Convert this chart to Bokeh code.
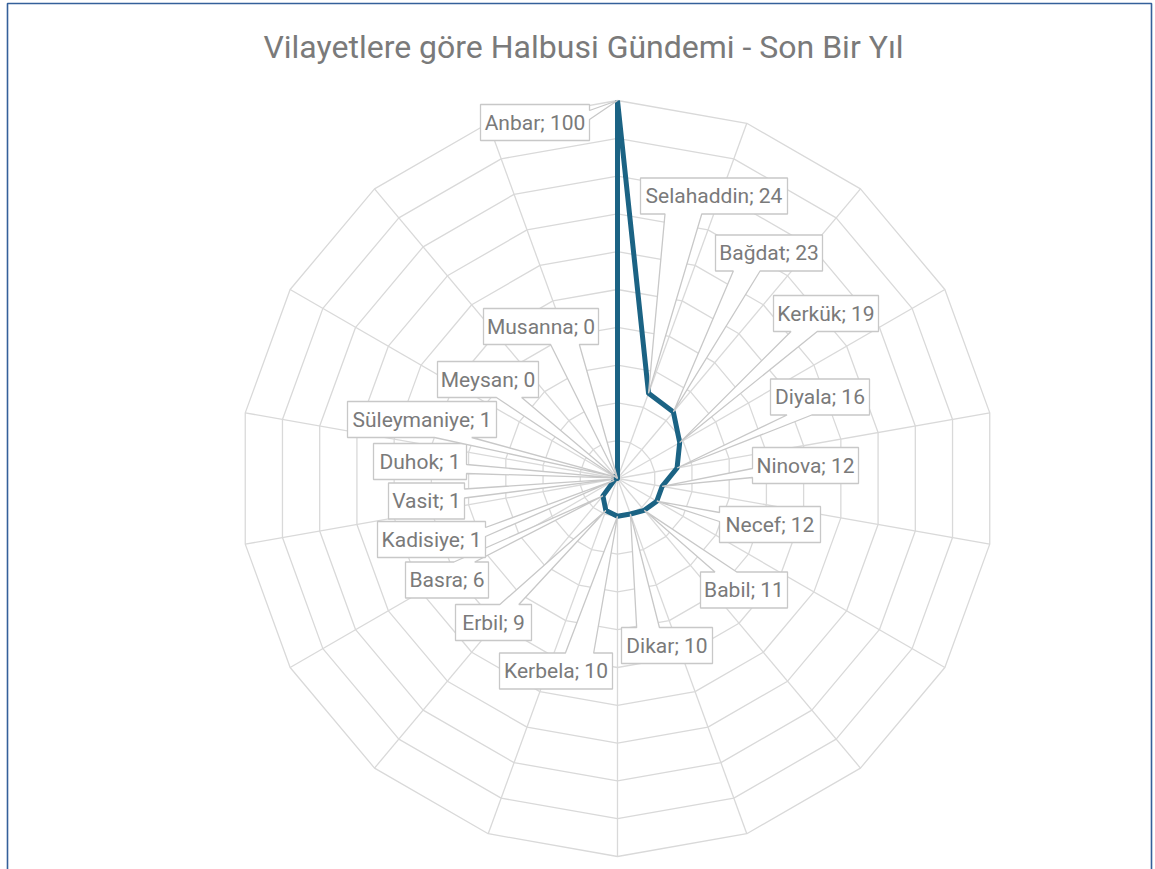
import numpy as np
from bokeh.plotting import figure
from bokeh.models import Range1d, Label
from bokeh.embed import file_html
from bokeh.resources import INLINE
from bokeh.core.properties import value

# ---------------- data ----------------
categories = ["Anbar", "Selahaddin", "Bağdat", "Kerkük", "Diyala", "Ninova",
              "Necef", "Babil", "Dikar", "Kerbela", "Erbil", "Basra",
              "Kadisiye", "Vasit", "Duhok", "Süleymaniye", "Meysan", "Musanna"]
values = [100, 24, 23, 19, 16, 12, 12, 11, 10, 10, 9, 6, 1, 1, 1, 1, 0, 0]
ring_levels = [10, 20, 30, 40, 50, 60, 70, 80, 90, 100]
title_text = "Vilayetlere göre Halbusi Gündemi - Son Bir Yıl"

# ---------------- layout (screen px, relative to chart centre, y down) ----------------
label_dx = [-82.5, 96.5, 151.5, 208.5, 202.5, 188, 152.5, 126.5, 49.5,
            -61.5, -124, -170.5, -186, -191, -197.5, -195.5, -129.5, -76.5]
label_dy = [-356, -282.5, -225.5, -165, -81.5, -13, 46, 111.5, 167,
            192.5, 144, 101.5, 61, 22.5, -17, -59, -99, -152]
label_w = [109, 147, 107, 105, 99, 106, 101, 87, 91,
           113, 76, 83, 108, 76, 93, 149, 101, 115]
label_h = 36

W, H = 1155, 869
CX, CY = 617, 478          # chart centre inside the figure (px)
R_PX = 378.0               # radius of the outer ring (px)
S = R_PX / max(ring_levels)  # px per value unit

FONT = "Roboto"
TEXT_COLOR = "#7a7a7a"
GRID_COLOR = "#d9d9d9"
CALLOUT_COLOR = "#c8c8c8"
LINE_COLOR = "#1b6384"

p = figure(width=W, height=H, output_backend="svg", toolbar_location=None,
           x_range=Range1d(-CX / S, (W - CX) / S),
           y_range=Range1d(-(H - CY) / S, CY / S),
           min_border=0, background_fill_color="white",
           border_fill_color="white")
p.axis.visible = False
p.xgrid.visible = False
p.ygrid.visible = False
p.outline_line_color = None

n = len(categories)
ang = np.deg2rad(np.arange(n) * 360.0 / n)   # clockwise from top
sx, sy = np.sin(ang), np.cos(ang)

# rings
ring_xs = [list(np.append(lv * sx, lv * sx[0])) for lv in ring_levels]
ring_ys = [list(np.append(lv * sy, lv * sy[0])) for lv in ring_levels]
p.multi_line(ring_xs, ring_ys, line_color=GRID_COLOR, line_width=1.3)
# spokes
top = max(ring_levels)
p.multi_line([[0, top * a] for a in sx], [[0, top * b] for b in sy],
             line_color=GRID_COLOR, line_width=1.3)

# series
vals = np.array(values, dtype=float)
px = vals * sx
py = vals * sy
p.line(list(np.append(px, px[0])), list(np.append(py, py[0])),
       line_color=LINE_COLOR, line_width=5, line_join="round")


# callouts (wedge-rectangle, as in Office)
def callout(l, t, r, b, xp, yp):
    w, h = r - l, b - t
    hc, vc = (l + r) / 2, (t + b) / 2
    dx, dy = xp - hc, yp - vc
    dq = dx * h / w
    xg1, xg2 = (7, 10) if dx > 0 else (2, 5)
    yg1, yg2 = (7, 10) if dy > 0 else (2, 5)
    x1, x2 = l + w * xg1 / 12, l + w * xg2 / 12
    y1, y2 = t + h * yg1 / 12, t + h * yg2 / 12
    if abs(dy) - abs(dq) > 0:
        if dy < 0:
            pts = [(l, t), (x1, t), (xp, yp), (x2, t), (r, t), (r, b), (l, b)]
        else:
            pts = [(l, t), (r, t), (r, b), (x2, b), (xp, yp), (x1, b), (l, b)]
    else:
        if dx < 0:
            pts = [(l, t), (r, t), (r, b), (l, b), (l, y2), (xp, yp), (l, y1)]
        else:
            pts = [(l, t), (r, t), (r, y1), (xp, yp), (r, y2), (r, b), (l, b)]
    return [q[0] / S for q in pts], [-q[1] / S for q in pts]


cx_list, cy_list, texts = [], [], []
cxs, cys = [], []
for i in range(n):
    xp_px = px[i] * S
    yp_px = -py[i] * S
    cxp, cyp = label_dx[i], label_dy[i]
    l, r = cxp - label_w[i] / 2, cxp + label_w[i] / 2
    t, b = cyp - label_h / 2, cyp + label_h / 2
    xs_, ys_ = callout(l, t, r, b, xp_px, yp_px)
    cxs.append(xs_)
    cys.append(ys_)
    cx_list.append(cxp / S)
    cy_list.append(-cyp / S)
    texts.append(f"{categories[i]}; {values[i]}")

p.patches(cxs, cys, fill_color="white", line_color=CALLOUT_COLOR, line_width=1.3)
p.text(cx_list, cy_list, text=texts, text_align="center", text_baseline="middle",
       text_font=value(FONT), text_font_size="21px", text_color=TEXT_COLOR)

# title
p.add_layout(Label(x=(583 - CX) / S, y=(CY - 46) / S, text=title_text,
                   text_align="center", text_baseline="middle",
                   text_font=FONT, text_font_size="32px", text_color=TEXT_COLOR))

# chart-area border (bottom edge lies outside the visible page)
p.quad(left=[(7 - CX) / S], right=[(1151 - CX) / S], top=[(CY - 3) / S],
       bottom=[-(H - CY) / S - 20], fill_color=None,
       line_color="#34609a", line_width=1.6)

open("out.html", "w").write(file_html(p, INLINE))
